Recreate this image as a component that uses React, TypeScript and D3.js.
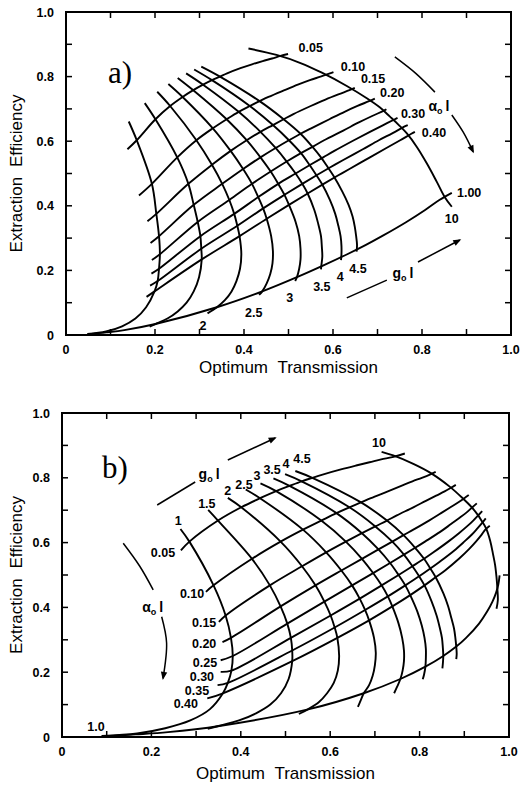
import React from "react";
import * as d3 from "d3";

type Pt = [number, number];

// ---------- axes ----------
const tickValues = [0.1, 0.2, 0.3, 0.4, 0.5, 0.6, 0.7, 0.8, 0.9];
const tickLabelValues = [0, 0.2, 0.4, 0.6, 0.8, 1.0];
const tickLabelText = ["0", "0.2", "0.4", "0.6", "0.8", "1.0"];

// ---------- panel a : curves of constant g0 l ----------
const aGain1: Pt[] = [[0.141,0.661],[0.159,0.603],[0.193,0.468],[0.203,0.375],[0.209,0.306],[0.211,0.250],[0.209,0.205],[0.206,0.167],[0.199,0.135],[0.180,0.086],[0.156,0.051],[0.126,0.027],[0.090,0.011],[0.048,0.003]];
const aGain1_5: Pt[] = [[0.177,0.718],[0.201,0.668],[0.250,0.550],[0.275,0.468],[0.287,0.403],[0.296,0.350],[0.302,0.306],[0.304,0.267],[0.305,0.234],[0.299,0.179],[0.287,0.135],[0.271,0.100],[0.251,0.073],[0.228,0.051],[0.201,0.034],[0.188,0.026]];
const aGain2: Pt[] = [[0.205,0.753],[0.234,0.709],[0.293,0.603],[0.328,0.527],[0.351,0.468],[0.367,0.418],[0.378,0.375],[0.385,0.338],[0.390,0.306],[0.394,0.250],[0.391,0.205],[0.383,0.167],[0.372,0.135],[0.357,0.108],[0.339,0.086],[0.318,0.067]];
const aGain2_5: Pt[] = [[0.230,0.777],[0.262,0.737],[0.330,0.640],[0.370,0.570],[0.398,0.514],[0.418,0.468],[0.432,0.427],[0.443,0.392],[0.451,0.360],[0.461,0.306],[0.465,0.260],[0.464,0.222],[0.459,0.189],[0.451,0.160],[0.441,0.135],[0.434,0.124]];
const aGain3: Pt[] = [[0.251,0.796],[0.286,0.758],[0.361,0.668],[0.406,0.603],[0.437,0.550],[0.460,0.506],[0.477,0.468],[0.491,0.434],[0.501,0.403],[0.516,0.350],[0.524,0.306],[0.527,0.267],[0.527,0.234],[0.524,0.205],[0.519,0.179],[0.515,0.167]];
const aGain3_5: Pt[] = [[0.270,0.810],[0.308,0.775],[0.388,0.691],[0.437,0.629],[0.471,0.579],[0.496,0.537],[0.516,0.500],[0.531,0.468],[0.543,0.438],[0.558,0.387],[0.567,0.343],[0.573,0.306],[0.575,0.272],[0.576,0.243],[0.574,0.217],[0.573,0.203]];
const aGain4: Pt[] = [[0.288,0.822],[0.328,0.789],[0.413,0.709],[0.465,0.650],[0.501,0.603],[0.528,0.563],[0.547,0.527],[0.562,0.496],[0.575,0.468],[0.593,0.418],[0.605,0.375],[0.612,0.338],[0.617,0.306],[0.619,0.276],[0.619,0.250],[0.618,0.232]];
const aGain4_5: Pt[] = [[0.304,0.831],[0.346,0.800],[0.435,0.724],[0.489,0.668],[0.527,0.623],[0.553,0.584],[0.573,0.550],[0.588,0.520],[0.601,0.493],[0.621,0.444],[0.635,0.403],[0.644,0.367],[0.649,0.335],[0.652,0.306],[0.654,0.279],[0.653,0.258]];
const aGain10: Pt[] = [[0.410,0.887],[0.473,0.867],[0.527,0.842],[0.575,0.812],[0.631,0.771],[0.676,0.733],[0.705,0.705],[0.728,0.676],[0.748,0.650],[0.766,0.624],[0.788,0.583],[0.811,0.531],[0.833,0.475],[0.852,0.425],[0.867,0.397]];

// ---------- panel a : curves of constant alpha0 l ----------
const aLoss005: Pt[] = [[0.138,0.575],[0.159,0.603],[0.201,0.668],[0.234,0.709],[0.262,0.737],[0.286,0.758],[0.308,0.775],[0.328,0.789],[0.346,0.800],[0.362,0.810],[0.392,0.826],[0.418,0.838],[0.442,0.848],[0.463,0.856],[0.482,0.864],[0.499,0.870]];
const aLoss010: Pt[] = [[0.164,0.432],[0.193,0.468],[0.250,0.550],[0.293,0.603],[0.330,0.640],[0.361,0.668],[0.388,0.691],[0.413,0.709],[0.435,0.724],[0.455,0.737],[0.491,0.758],[0.521,0.775],[0.548,0.789],[0.572,0.800],[0.593,0.810],[0.601,0.814]];
const aLoss015: Pt[] = [[0.183,0.352],[0.203,0.375],[0.275,0.468],[0.328,0.527],[0.370,0.570],[0.406,0.603],[0.437,0.629],[0.465,0.650],[0.489,0.668],[0.511,0.684],[0.550,0.709],[0.583,0.729],[0.612,0.745],[0.637,0.758],[0.649,0.765]];
const aLoss020: Pt[] = [[0.190,0.285],[0.209,0.306],[0.287,0.403],[0.351,0.468],[0.398,0.514],[0.437,0.550],[0.471,0.579],[0.501,0.603],[0.527,0.623],[0.551,0.640],[0.592,0.668],[0.626,0.691],[0.655,0.709],[0.681,0.724],[0.694,0.732]];
const aLoss025: Pt[] = [[0.193,0.232],[0.211,0.250],[0.296,0.350],[0.367,0.418],[0.418,0.468],[0.460,0.506],[0.496,0.537],[0.528,0.563],[0.556,0.584],[0.580,0.603],[0.623,0.633],[0.658,0.658],[0.688,0.678],[0.7135,0.694],[0.720,0.699]];
const aLoss030: Pt[] = [[0.192,0.190],[0.209,0.205],[0.302,0.306],[0.378,0.375],[0.432,0.427],[0.477,0.468],[0.516,0.500],[0.549,0.527],[0.578,0.550],[0.603,0.570],[0.647,0.603],[0.683,0.629],[0.713,0.650],[0.739,0.668],[0.745,0.672]];
const aLoss035: Pt[] = [[0.189,0.153],[0.206,0.167],[0.304,0.267],[0.385,0.338],[0.443,0.392],[0.491,0.434],[0.531,0.468],[0.565,0.496],[0.595,0.520],[0.622,0.541],[0.667,0.575],[0.703,0.603],[0.734,0.625],[0.760,0.645],[0.768,0.650]];
const aLoss040: Pt[] = [[0.181,0.118],[0.199,0.135],[0.305,0.234],[0.390,0.306],[0.451,0.360],[0.501,0.403],[0.543,0.438],[0.579,0.468],[0.610,0.493],[0.637,0.514],[0.683,0.550],[0.720,0.579],[0.751,0.603],[0.776,0.623],[0.784,0.629]];
const aLoss100: Pt[] = [[0.048,0.002],[0.091,0.008],[0.131,0.015],[0.201,0.034],[0.339,0.086],[0.441,0.135],[0.519,0.179],[0.581,0.217],[0.632,0.250],[0.674,0.279],[0.710,0.306],[0.765,0.350],[0.807,0.387],[0.839,0.418],[0.867,0.440]];

// ---------- panel b : curves of constant g0 l ----------
const bGain1: Pt[] = [[0.265,0.642],[0.285,0.603],[0.339,0.468],[0.366,0.375],[0.378,0.306],[0.382,0.250],[0.379,0.205],[0.371,0.167],[0.360,0.135],[0.331,0.086],[0.287,0.051],[0.231,0.027],[0.168,0.011],[0.089,0.003]];
const bGain1_5: Pt[] = [[0.327,0.701],[0.349,0.668],[0.425,0.550],[0.465,0.468],[0.489,0.403],[0.504,0.350],[0.512,0.306],[0.515,0.267],[0.515,0.234],[0.507,0.179],[0.490,0.135],[0.466,0.100],[0.434,0.073],[0.396,0.051],[0.350,0.034],[0.326,0.025]];
const bGain2: Pt[] = [[0.371,0.738],[0.401,0.709],[0.489,0.603],[0.537,0.527],[0.567,0.468],[0.587,0.418],[0.601,0.375],[0.610,0.338],[0.616,0.306],[0.620,0.250],[0.617,0.205],[0.608,0.167],[0.593,0.135],[0.575,0.108],[0.551,0.086],[0.530,0.071]];
const bGain2_5: Pt[] = [[0.411,0.764],[0.443,0.737],[0.539,0.640],[0.591,0.570],[0.625,0.514],[0.649,0.468],[0.666,0.427],[0.678,0.392],[0.687,0.360],[0.698,0.306],[0.702,0.260],[0.700,0.222],[0.695,0.189],[0.687,0.160],[0.675,0.135],[0.668,0.112],[0.662,0.093]];
const bGain3: Pt[] = [[0.444,0.783],[0.479,0.759],[0.580,0.668],[0.635,0.603],[0.671,0.550],[0.696,0.506],[0.715,0.468],[0.729,0.434],[0.739,0.403],[0.753,0.350],[0.761,0.306],[0.765,0.267],[0.765,0.234],[0.762,0.205],[0.757,0.179],[0.750,0.156],[0.743,0.135]];
const bGain3_5: Pt[] = [[0.473,0.798],[0.509,0.775],[0.614,0.691],[0.671,0.629],[0.708,0.579],[0.734,0.537],[0.753,0.500],[0.768,0.468],[0.779,0.438],[0.795,0.387],[0.805,0.343],[0.811,0.306],[0.814,0.272],[0.814,0.243],[0.813,0.217],[0.810,0.193],[0.807,0.178]];
const bGain4: Pt[] = [[0.499,0.811],[0.536,0.789],[0.643,0.709],[0.701,0.650],[0.739,0.603],[0.765,0.563],[0.784,0.527],[0.799,0.496],[0.811,0.468],[0.827,0.418],[0.838,0.375],[0.845,0.338],[0.850,0.306],[0.852,0.276],[0.853,0.250],[0.852,0.226],[0.851,0.212]];
const bGain4_5: Pt[] = [[0.522,0.821],[0.560,0.800],[0.669,0.724],[0.727,0.668],[0.764,0.623],[0.790,0.584],[0.810,0.550],[0.824,0.520],[0.836,0.493],[0.853,0.444],[0.864,0.403],[0.871,0.367],[0.877,0.335],[0.880,0.306],[0.882,0.279],[0.883,0.256],[0.882,0.240]];
const bGain10: Pt[] = [[0.715,0.880],[0.741,0.869],[0.786,0.843],[0.827,0.813],[0.868,0.772],[0.897,0.736],[0.916,0.710],[0.931,0.684],[0.938,0.669],[0.949,0.643],[0.958,0.605],[0.964,0.566],[0.969,0.530],[0.972,0.494],[0.974,0.458],[0.975,0.422],[0.972,0.396]];

// ---------- panel b : curves of constant alpha0 l ----------
const bLoss005: Pt[] = [[0.266,0.576],[0.285,0.603],[0.349,0.668],[0.401,0.709],[0.443,0.737],[0.479,0.759],[0.509,0.775],[0.536,0.789],[0.560,0.800],[0.583,0.810],[0.624,0.826],[0.658,0.838],[0.688,0.848],[0.714,0.857],[0.739,0.864],[0.767,0.875]];
const bLoss010: Pt[] = [[0.322,0.448],[0.339,0.468],[0.425,0.550],[0.489,0.603],[0.539,0.640],[0.580,0.668],[0.614,0.691],[0.643,0.709],[0.669,0.724],[0.691,0.737],[0.729,0.758],[0.759,0.775],[0.784,0.789],[0.805,0.800],[0.823,0.810],[0.836,0.818]];
const bLoss015: Pt[] = [[0.351,0.355],[0.366,0.375],[0.465,0.468],[0.537,0.527],[0.591,0.570],[0.635,0.603],[0.671,0.629],[0.701,0.650],[0.727,0.668],[0.749,0.684],[0.786,0.709],[0.814,0.729],[0.837,0.745],[0.856,0.758],[0.871,0.770],[0.881,0.778]];
const bLoss020: Pt[] = [[0.359,0.293],[0.378,0.306],[0.489,0.403],[0.567,0.468],[0.625,0.514],[0.671,0.550],[0.708,0.579],[0.739,0.603],[0.764,0.623],[0.786,0.640],[0.821,0.668],[0.848,0.691],[0.869,0.709],[0.886,0.724],[0.900,0.737],[0.910,0.747]];
const bLoss025: Pt[] = [[0.355,0.237],[0.382,0.250],[0.504,0.350],[0.587,0.418],[0.649,0.468],[0.696,0.506],[0.734,0.537],[0.765,0.563],[0.790,0.584],[0.812,0.603],[0.846,0.633],[0.871,0.658],[0.891,0.678],[0.906,0.694],[0.918,0.709],[0.928,0.721]];
const bLoss030: Pt[] = [[0.355,0.201],[0.379,0.205],[0.512,0.306],[0.601,0.375],[0.666,0.427],[0.715,0.468],[0.753,0.500],[0.784,0.527],[0.810,0.550],[0.831,0.570],[0.864,0.603],[0.888,0.629],[0.906,0.650],[0.920,0.668],[0.931,0.684],[0.940,0.697]];
const bLoss035: Pt[] = [[0.348,0.160],[0.371,0.167],[0.515,0.267],[0.610,0.338],[0.678,0.392],[0.729,0.434],[0.768,0.468],[0.799,0.496],[0.824,0.520],[0.845,0.541],[0.877,0.575],[0.900,0.603],[0.917,0.625],[0.930,0.645],[0.940,0.661],[0.948,0.675]];
const bLoss040: Pt[] = [[0.325,0.119],[0.360,0.135],[0.515,0.234],[0.616,0.306],[0.687,0.360],[0.739,0.403],[0.779,0.438],[0.811,0.468],[0.836,0.493],[0.857,0.514],[0.888,0.550],[0.910,0.579],[0.926,0.603],[0.938,0.623],[0.947,0.640],[0.957,0.652]];
const bLoss100: Pt[] = [[0.088,0.002],[0.165,0.008],[0.237,0.015],[0.352,0.034],[0.553,0.086],[0.675,0.135],[0.757,0.179],[0.813,0.217],[0.853,0.250],[0.882,0.279],[0.904,0.306],[0.933,0.350],[0.951,0.387],[0.963,0.418],[0.971,0.445],[0.976,0.470],[0.979,0.499]];

const panelACurves: Pt[][] = [aGain1, aGain1_5, aGain2, aGain2_5, aGain3, aGain3_5, aGain4, aGain4_5, aGain10,
  aLoss005, aLoss010, aLoss015, aLoss020, aLoss025, aLoss030, aLoss035, aLoss040, aLoss100];
const panelBCurves: Pt[][] = [bGain1, bGain1_5, bGain2, bGain2_5, bGain3, bGain3_5, bGain4, bGain4_5, bGain10,
  bLoss005, bLoss010, bLoss015, bLoss020, bLoss025, bLoss030, bLoss035, bLoss040, bLoss100];

// ---------- curve labels (data coordinates) ----------
type Lab = { t: string; x: number; y: number };
const panelALabels: Lab[] = [
  { t: "0.05", x: 0.550, y: 0.889 }, { t: "0.10", x: 0.645, y: 0.830 }, { t: "0.15", x: 0.690, y: 0.795 },
  { t: "0.20", x: 0.733, y: 0.752 }, { t: "0.30", x: 0.780, y: 0.687 }, { t: "0.40", x: 0.827, y: 0.628 },
  { t: "1.00", x: 0.906, y: 0.442 }, { t: "10", x: 0.867, y: 0.362 },
  { t: "2", x: 0.308, y: 0.028 }, { t: "2.5", x: 0.422, y: 0.071 }, { t: "3", x: 0.503, y: 0.117 },
  { t: "3.5", x: 0.575, y: 0.150 }, { t: "4", x: 0.616, y: 0.180 }, { t: "4.5", x: 0.656, y: 0.206 },
];
const panelBLabels: Lab[] = [
  { t: "0.05", x: 0.226, y: 0.568 }, { t: "0.10", x: 0.291, y: 0.444 }, { t: "0.15", x: 0.318, y: 0.352 },
  { t: "0.20", x: 0.318, y: 0.290 }, { t: "0.25", x: 0.320, y: 0.231 }, { t: "0.30", x: 0.313, y: 0.188 },
  { t: "0.35", x: 0.302, y: 0.145 }, { t: "0.40", x: 0.277, y: 0.102 }, { t: "1.0", x: 0.076, y: 0.031 },
  { t: "1", x: 0.260, y: 0.667 }, { t: "1.5", x: 0.324, y: 0.722 }, { t: "2", x: 0.371, y: 0.760 },
  { t: "2.5", x: 0.407, y: 0.778 }, { t: "3", x: 0.436, y: 0.808 }, { t: "3.5", x: 0.470, y: 0.826 },
  { t: "4", x: 0.501, y: 0.844 }, { t: "4.5", x: 0.537, y: 0.860 }, { t: "10", x: 0.709, y: 0.910 },
];

// symbol labels (base letter with subscript "o" followed by "l")
type Sym = { base: string; x: number; y: number };
const panelASymbols: Sym[] = [{ base: "α", x: 0.838, y: 0.708 }, { base: "g", x: 0.757, y: 0.192 }];
const panelBSymbols: Sym[] = [{ base: "g", x: 0.329, y: 0.813 }, { base: "α", x: 0.203, y: 0.401 }];

// arrows
type Arrow = { pts: Pt[]; head: boolean };
const panelAArrows: Arrow[] = [
  { pts: [[0.739, 0.861], [0.786, 0.810], [0.829, 0.752]], head: false },
  { pts: [[0.867, 0.681], [0.893, 0.627], [0.915, 0.567]], head: true },
  { pts: [[0.631, 0.115], [0.721, 0.170]], head: false },
  { pts: [[0.791, 0.226], [0.885, 0.294]], head: true },
];
const panelBArrows: Arrow[] = [
  { pts: [[0.213, 0.716], [0.298, 0.787]], head: false },
  { pts: [[0.371, 0.855], [0.477, 0.923]], head: true },
  { pts: [[0.137, 0.598], [0.174, 0.527], [0.204, 0.454]], head: false },
  { pts: [[0.223, 0.371], [0.234, 0.290], [0.226, 0.181]], head: true },
];

const SANS = "'Liberation Sans', Arial, Helvetica, sans-serif";
const SERIF = "'Liberation Serif', 'Times New Roman', serif";

type PanelProps = {
  left: number; right: number; bottom: number; top: number;
  curves: Pt[][]; labels: Lab[]; symbols: Sym[]; arrows: Arrow[];
  letter: string; letterX: number; letterY: number; titleGap: number; yLabelRight: number;
};

function Panel(p: PanelProps) {
  const x = d3.scaleLinear().domain([0, 1]).range([p.left, p.right]);
  const y = d3.scaleLinear().domain([0, 1]).range([p.bottom, p.top]);
  const smooth = d3.line<Pt>().x((d) => x(d[0])).y((d) => y(d[1])).curve(d3.curveCatmullRom.alpha(0.5));
  const T = 6;
  return (
    <g>
      {p.curves.map((c, i) => (
        <path key={"c" + i} d={smooth(c) || ""} fill="none" stroke="#000" strokeWidth={1.9} strokeLinejoin="round" />
      ))}
      <rect x={p.left} y={p.top} width={p.right - p.left} height={p.bottom - p.top} fill="none" stroke="#000" strokeWidth={2} />
      {tickValues.map((v) => (
        <g key={"t" + v} stroke="#000" strokeWidth={1.5}>
          <line x1={x(v)} x2={x(v)} y1={p.bottom} y2={p.bottom - T} />
          <line x1={x(v)} x2={x(v)} y1={p.top} y2={p.top + T} />
          <line x1={p.left} x2={p.left + T} y1={y(v)} y2={y(v)} />
          <line x1={p.right} x2={p.right - T} y1={y(v)} y2={y(v)} />
        </g>
      ))}
      {tickLabelValues.map((v, i) => (
        <text key={"xl" + v} x={x(v)} y={p.bottom + 19} textAnchor="middle" fontFamily={SANS} fontWeight="bold" fontSize={12.5}>
          {tickLabelText[i]}
        </text>
      ))}
      {tickLabelValues.map((v, i) => (
        <text key={"yl" + v} x={p.yLabelRight} y={y(v)} dy="0.36em" textAnchor="end" fontFamily={SANS} fontWeight="bold" fontSize={12.5}>
          {tickLabelText[i]}
        </text>
      ))}
      <text x={(p.left + p.right) / 2} y={p.bottom + p.titleGap} textAnchor="middle" fontFamily={SANS} fontSize={17} wordSpacing={5}>
        Optimum Transmission
      </text>
      <text transform={`translate(${16},${(p.top + p.bottom) / 2}) rotate(-90)`} textAnchor="middle" dy="0.35em" fontFamily={SANS} fontSize={17} wordSpacing={5}>
        Extraction Efficiency
      </text>
      {p.labels.map((l, i) => (
        <text key={"l" + i} x={x(l.x)} y={y(l.y)} dy="0.36em" textAnchor="middle" fontFamily={SANS} fontWeight="bold" fontSize={12.5}>
          {l.t}
        </text>
      ))}
      {p.symbols.map((s, i) => (
        <text key={"s" + i} x={x(s.x)} y={y(s.y)} dy="0.36em" textAnchor="middle" fontFamily={SANS} fontWeight="bold" fontSize={14}>
          {s.base}
          <tspan fontSize={9} dy={3}>o</tspan>
          <tspan dy={-3} dx={3}>l</tspan>
        </text>
      ))}
      {p.arrows.map((a, i) => (
        <path key={"a" + i} d={smooth(a.pts) || ""} fill="none" stroke="#000" strokeWidth={1.5}
          markerEnd={a.head ? "url(#arrowHead)" : undefined} />
      ))}
      <text x={p.letterX} y={p.letterY} dy="0.35em" textAnchor="middle" fontFamily={SERIF} fontSize={31}>
        {p.letter}
      </text>
    </g>
  );
}

export default function App() {
  return (
    <svg width={520} height={789} viewBox="0 0 520 789" style={{ position: "absolute", left: 0, top: 0, background: "#fff" }}>
      <defs>
        <marker id="arrowHead" viewBox="0 0 10 10" refX="8" refY="5" markerWidth="11" markerHeight="8"
          orient="auto" markerUnits="userSpaceOnUse">
          <path d="M0,1 L10,5 L0,9 z" fill="#000" />
        </marker>
      </defs>
      <rect x={0} y={0} width={520} height={789} fill="#fff" />
      <Panel left={66} right={511} bottom={335} top={12} curves={panelACurves} labels={panelALabels}
        symbols={panelASymbols} arrows={panelAArrows} letter="a)" letterX={120} letterY={72} titleGap={38} yLabelRight={54} />
      <Panel left={62} right={509} bottom={737} top={413} curves={panelBCurves} labels={panelBLabels}
        symbols={panelBSymbols} arrows={panelBArrows} letter="b)" letterX={115} letterY={467} titleGap={42} yLabelRight={50} />
    </svg>
  );
}
